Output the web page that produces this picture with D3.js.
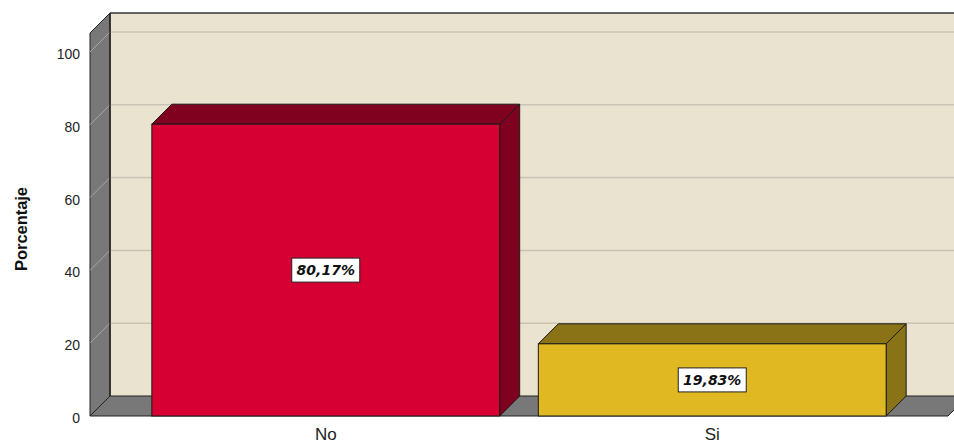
<!DOCTYPE html>
<html>
<head>
<meta charset="utf-8">
<script src="https://d3js.org/d3.v7.min.js"></script>
<style>
    body { margin: 0; background: #fff; }
    svg { display: block; font-family: Arial, "Liberation Sans", sans-serif; }
</style>
</head>
<body>
<svg class="chart"></svg>
<script>
    // data
    var categories = ["No", "Si"];
    var values = [80.17, 19.83];
    var yTicks = [0, 20, 40, 60, 80, 100];
    var frontColors = ["#d70032", "#e0b922"];
    var darkColors = ["#80001f", "#8a7217"];

    var width = 954, height = 444;
    var depth = 20; // 3d offset, right and up

    var svg = d3.select(".chart")
        .attr("width", width)
        .attr("height", height);

    var x = d3.scaleBand()
        .domain(categories)
        .range([90, 948])
        .paddingInner(0.1)
        .paddingOuter(0.16);

    var y = d3.scaleLinear()
        .domain([0, 100])
        .range([416, 52]);

    var wallTop = y(105.2);
    var x0 = 90, x1 = 948;

    function pts(a) { return a.map(function(p) { return p.join(","); }).join(" "); }

    // back wall
    svg.append("rect")
        .attr("x", x0 + depth).attr("y", wallTop - depth)
        .attr("width", width - x0).attr("height", y(0) - wallTop)
        .attr("fill", "#e9e3cf");
    svg.append("line")
        .attr("x1", x0 + depth).attr("x2", width)
        .attr("y1", wallTop - depth).attr("y2", wallTop - depth)
        .attr("stroke", "#333").attr("stroke-width", 1.5);

    // left side wall
    svg.append("polygon")
        .attr("points", pts([[x0, y(0)], [x0, wallTop], [x0 + depth, wallTop - depth], [x0 + depth, y(0) - depth]]))
        .attr("fill", "#787878").attr("stroke", "#222").attr("stroke-width", 1);

    // gridlines on back wall and side wall
    var grid = svg.append("g");
    yTicks.filter(function(d) { return d > 0; }).forEach(function(d) {
        grid.append("line")
            .attr("x1", x0 + depth).attr("x2", width)
            .attr("y1", y(d) - depth).attr("y2", y(d) - depth)
            .attr("stroke", "#c9c4b6").attr("stroke-width", 1.5);
        grid.append("line")
            .attr("x1", x0).attr("x2", x0 + depth)
            .attr("y1", y(d)).attr("y2", y(d) - depth)
            .attr("stroke", "#a8a8a8").attr("stroke-width", 1);
    });

    // floor
    svg.append("polygon")
        .attr("points", pts([[x0, y(0)], [x1, y(0)], [x1 + depth, y(0) - depth], [x0 + depth, y(0) - depth]]))
        .attr("fill", "#787878").attr("stroke", "#222").attr("stroke-width", 1);
    svg.append("line")
        .attr("x1", x0 + depth).attr("x2", x0 + depth)
        .attr("y1", wallTop - depth).attr("y2", y(0) - depth)
        .attr("stroke", "#222").attr("stroke-width", 1.5);

    // y tick labels
    svg.append("g").selectAll("text")
        .data(yTicks)
        .join("text")
        .attr("x", 80)
        .attr("y", function(d) { return y(d) + 2; })
        .attr("dy", "0.35em")
        .attr("text-anchor", "end")
        .attr("font-size", 14)
        .attr("fill", "#222")
        .text(function(d) { return d; });

    // y axis title
    svg.append("text")
        .attr("transform", "translate(27,229) rotate(-90)")
        .attr("text-anchor", "middle")
        .attr("font-size", 17)
        .attr("font-weight", "bold")
        .attr("textLength", 84)
        .attr("lengthAdjust", "spacingAndGlyphs")
        .attr("fill", "#111")
        .text("Porcentaje");

    // bars
    var bars = svg.append("g").selectAll("g")
        .data(categories)
        .join("g");

    bars.each(function(c, i) {
        var g = d3.select(this);
        var bx = x(c), bw = x.bandwidth();
        var by = y(values[i]), b0 = y(0);
        // side
        g.append("polygon")
            .attr("points", pts([[bx + bw, b0], [bx + bw, by], [bx + bw + depth, by - depth], [bx + bw + depth, b0 - depth]]))
            .attr("fill", darkColors[i]).attr("stroke", "#1a1a1a").attr("stroke-width", 1);
        // top
        g.append("polygon")
            .attr("points", pts([[bx, by], [bx + bw, by], [bx + bw + depth, by - depth], [bx + depth, by - depth]]))
            .attr("fill", darkColors[i]).attr("stroke", "#1a1a1a").attr("stroke-width", 1);
        // front
        g.append("rect")
            .attr("x", bx).attr("y", by)
            .attr("width", bw).attr("height", b0 - by)
            .attr("fill", frontColors[i]).attr("stroke", "#1a1a1a").attr("stroke-width", 1);

        // value label
        var cx = bx + bw / 2, cy = (by + b0) / 2;
        var lab = g.append("g");
        lab.append("rect")
            .attr("x", cx - 34).attr("y", cy - 12)
            .attr("width", 68).attr("height", 24)
            .attr("fill", "#fff").attr("stroke", "#222").attr("stroke-width", 1);
        lab.append("text")
            .attr("x", cx).attr("y", cy)
            .attr("dy", "0.36em")
            .attr("text-anchor", "middle")
            .attr("font-family", "'DejaVu Sans', sans-serif")
            .attr("font-size", 14)
            .attr("font-weight", "bold")
            .attr("font-style", "italic")
            .attr("fill", "#111")
            .text(d3.format(".2f")(values[i]).replace(".", ",") + "%");
    });

    // x labels
    svg.append("g").selectAll("text")
        .data(categories)
        .join("text")
        .attr("x", function(d) { return x(d) + x.bandwidth() / 2; })
        .attr("y", 440)
        .attr("text-anchor", "middle")
        .attr("font-size", 17)
        .attr("fill", "#222")
        .text(function(d) { return d; });
</script>
</body>
</html>
